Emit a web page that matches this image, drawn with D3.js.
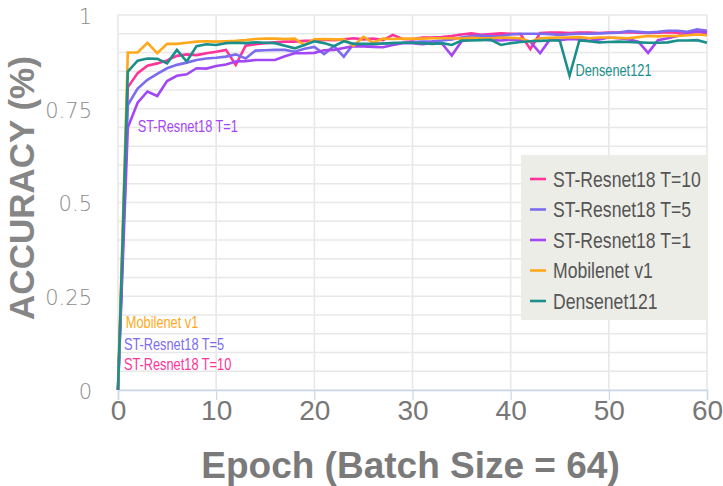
<!DOCTYPE html>
<html>
<head>
<meta charset="utf-8">
<script src="https://cdn.jsdelivr.net/npm/d3@7"></script>
<style>
  html, body { margin: 0; padding: 0; background: #ffffff; }
  svg { display: block; }
</style>
</head>
<body>
<svg id="chart" width="723" height="486"></svg>
<script>
// Validation accuracy per epoch (epochs 0..60)
const epochs = d3.range(0, 61);

const stResnetT10 = [0, 0.807, 0.845, 0.865, 0.871, 0.879, 0.891, 0.895, 0.893, 0.898, 0.902,
  0.907, 0.867, 0.918, 0.922, 0.925, 0.927, 0.929, 0.929, 0.931, 0.932,
  0.934, 0.933, 0.935, 0.938, 0.935, 0.937, 0.933, 0.947, 0.936, 0.935,
  0.940, 0.940, 0.941, 0.944, 0.948, 0.951, 0.947, 0.949, 0.951, 0.950,
  0.949, 0.909, 0.952, 0.953, 0.953, 0.952, 0.953, 0.953, 0.952, 0.953,
  0.953, 0.954, 0.953, 0.952, 0.953, 0.954, 0.953, 0.954, 0.955, 0.952];

const stResnetT5 = [0, 0.760, 0.804, 0.827, 0.843, 0.858, 0.867, 0.873, 0.880, 0.884, 0.886,
  0.889, 0.895, 0.884, 0.905, 0.906, 0.907, 0.907, 0.902, 0.910, 0.915,
  0.896, 0.917, 0.889, 0.923, 0.921, 0.922, 0.924, 0.925, 0.926, 0.928,
  0.929, 0.930, 0.932, 0.935, 0.940, 0.944, 0.945, 0.943, 0.944, 0.948,
  0.950, 0.950, 0.950, 0.949, 0.947, 0.949, 0.950, 0.950, 0.951, 0.952,
  0.953, 0.957, 0.955, 0.953, 0.955, 0.958, 0.958, 0.955, 0.962, 0.958];

const stResnetT1 = [0, 0.700, 0.766, 0.796, 0.784, 0.824, 0.838, 0.842, 0.858, 0.857, 0.864,
  0.868, 0.876, 0.877, 0.880, 0.880, 0.880, 0.890, 0.898, 0.898, 0.899,
  0.906, 0.907, 0.912, 0.917, 0.916, 0.915, 0.914, 0.920, 0.925, 0.925,
  0.922, 0.925, 0.924, 0.892, 0.930, 0.935, 0.935, 0.933, 0.932, 0.934,
  0.935, 0.929, 0.898, 0.935, 0.933, 0.936, 0.935, 0.931, 0.935, 0.940,
  0.938, 0.935, 0.929, 0.899, 0.933, 0.938, 0.944, 0.950, 0.956, 0.953];

const mobilenetV1 = [0, 0.900, 0.900, 0.926, 0.898, 0.923, 0.923, 0.926, 0.929, 0.930, 0.929,
  0.930, 0.931, 0.933, 0.936, 0.937, 0.937, 0.936, 0.937, 0.920, 0.935,
  0.936, 0.935, 0.935, 0.918, 0.942, 0.926, 0.937, 0.936, 0.937, 0.937,
  0.937, 0.938, 0.938, 0.938, 0.937, 0.939, 0.938, 0.938, 0.940, 0.939,
  0.938, 0.929, 0.938, 0.939, 0.940, 0.940, 0.941, 0.938, 0.940, 0.940,
  0.939, 0.938, 0.941, 0.944, 0.943, 0.944, 0.944, 0.946, 0.948, 0.946];

const densenet121 = [0, 0.849, 0.878, 0.884, 0.883, 0.871, 0.907, 0.876, 0.917, 0.922, 0.920,
  0.925, 0.926, 0.925, 0.927, 0.926, 0.925, 0.918, 0.911, 0.920, 0.930,
  0.925, 0.917, 0.930, 0.923, 0.923, 0.923, 0.924, 0.925, 0.926, 0.926,
  0.925, 0.923, 0.925, 0.920, 0.932, 0.932, 0.933, 0.934, 0.920, 0.925,
  0.928, 0.930, 0.931, 0.932, 0.932, 0.838, 0.932, 0.930, 0.927, 0.928,
  0.929, 0.928, 0.927, 0.926, 0.926, 0.927, 0.932, 0.932, 0.933, 0.926];

const seriesNames = ["ST-Resnet18 T=10", "ST-Resnet18 T=5", "ST-Resnet18 T=1", "Mobilenet v1", "Densenet121"];
const seriesValues = [stResnetT10, stResnetT5, stResnetT1, mobilenetV1, densenet121];
const seriesColors = ["#ff3399", "#7b6cf0", "#a346f5", "#ffa81a", "#1b8f8b"];

const xTicks = [0, 10, 20, 30, 40, 50, 60];
const yTicks = [0, 0.25, 0.5, 0.75, 1];
const yTickLabels = ["0", "0.25", "0.5", "0.75", "1"];
const yGrid = d3.range(0, 21).map(i => i * 0.05);

// Labels written next to the curves
const curveLabels = [
  { text: "ST-Resnet18 T=1", series: 2, epoch: 2, value: 0.687 },
  { text: "Densenet121", series: 4, epoch: 46.6, value: 0.837 },
  { text: "Mobilenet v1", series: 3, epoch: 0.8, value: 0.165 },
  { text: "ST-Resnet18 T=5", series: 1, epoch: 0.6, value: 0.106 },
  { text: "ST-Resnet18 T=10", series: 0, epoch: 0.6, value: 0.054 }
];

const svg = d3.select("#chart");
const margin = { top: 15, right: 16, bottom: 96, left: 118 };
const W = 723, H = 486;

const x = d3.scaleLinear().domain([0, 60]).range([margin.left, W - margin.right]);
const y = d3.scaleLinear().domain([0, 1]).range([H - margin.bottom, margin.top]);

const sans = "'Liberation Sans', Arial, sans-serif";
const condense = 0.8; // horizontal squeeze for the narrow label face

// grid
const grid = svg.append("g");
grid.selectAll("line.h").data(yGrid).enter().append("line")
  .attr("x1", x(0)).attr("x2", x(60))
  .attr("y1", d => y(d)).attr("y2", d => y(d))
  .attr("stroke", "#e8e8e8").attr("stroke-width", 1.6);
grid.selectAll("line.v").data(xTicks).enter().append("line")
  .attr("x1", d => x(d)).attr("x2", d => x(d))
  .attr("y1", y(0)).attr("y2", y(1))
  .attr("stroke", "#e8e8e8").attr("stroke-width", 1.6);

// x axis
const xAxis = svg.append("g")
  .attr("transform", `translate(0,${y(0)})`)
  .call(d3.axisBottom(x).tickValues(xTicks).tickSize(10).tickPadding(6).tickFormat(d3.format("d")));
xAxis.select(".domain").attr("stroke", "#ccd6eb").attr("stroke-width", 1.5);
xAxis.selectAll(".tick line").attr("stroke", "#ccd6eb").attr("stroke-width", 1.2);
xAxis.selectAll(".tick text")
  .attr("fill", "#777").attr("font-family", sans)
  .attr("font-size", 28).attr("dy", "0.72em").attr("y", 10);

// y axis labels
const yAxis = svg.append("g")
  .attr("transform", `translate(${x(0)},0)`)
  .call(d3.axisLeft(y).tickValues(yTicks).tickSize(0).tickPadding(26)
    .tickFormat((d, i) => yTickLabels[i]));
yAxis.select(".domain").remove();
yAxis.selectAll(".tick text")
  .attr("fill", "#8c8c8c").attr("font-family", "'DejaVu Sans', sans-serif")
  .attr("font-weight", 200).attr("font-size", 21).attr("dy", "0.4em");

// axis titles
svg.append("text")
  .attr("x", (x(0) + x(60)) / 2 - 2).attr("y", 478)
  .attr("text-anchor", "middle")
  .attr("font-family", sans)
  .attr("font-weight", "bold").attr("font-size", 37).attr("fill", "#7a7a7a")
  .text("Epoch (Batch Size = 64)");
svg.append("text")
  .attr("transform", `translate(34,${188}) rotate(-90)`)
  .attr("text-anchor", "middle")
  .attr("font-family", sans)
  .attr("font-weight", "bold").attr("font-size", 35).attr("fill", "#868686")
  .text("ACCURACY (%)");

// lines
const line = d3.line().x((d, i) => x(epochs[i])).y(d => y(d));
svg.append("g").selectAll("path").data(seriesValues).enter().append("path")
  .attr("d", d => line(d))
  .attr("fill", "none")
  .attr("stroke", (d, i) => seriesColors[i])
  .attr("stroke-width", 2.6)
  .attr("stroke-linejoin", "miter");

// curve labels
svg.append("g").selectAll("text").data(curveLabels).enter().append("text")
  .attr("transform", d => `translate(${x(d.epoch)},${y(d.value)}) scale(${condense},1)`)
  .attr("font-family", sans).attr("font-size", 16)
  .attr("fill", d => seriesColors[d.series])
  .text(d => d.text);

// legend
const legend = svg.append("g").attr("transform", "translate(521,155)");
legend.append("rect").attr("width", 187).attr("height", 165).attr("fill", "#ededE8");
const items = legend.selectAll("g.item").data(seriesNames).enter().append("g")
  .attr("transform", (d, i) => `translate(0,${24 + i * 30.5})`);
items.append("line").attr("x1", 9).attr("x2", 25).attr("y1", 0).attr("y2", 0)
  .attr("stroke", (d, i) => seriesColors[i]).attr("stroke-width", 2.6);
items.append("text")
  .attr("transform", `translate(32,0) scale(${condense},1)`)
  .attr("dy", "0.36em")
  .attr("font-family", sans).attr("font-size", 22).attr("fill", "#555")
  .text(d => d);
</script>
</body>
</html>
